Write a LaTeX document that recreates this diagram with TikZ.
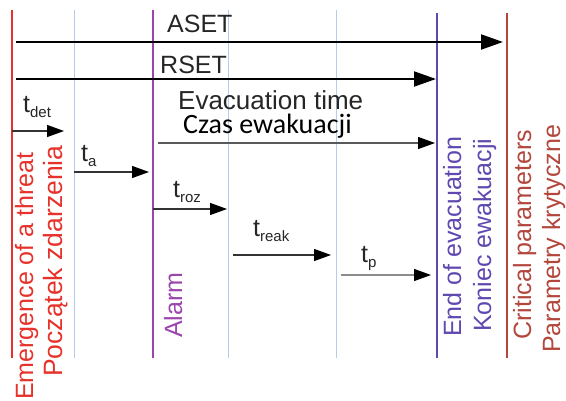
\documentclass[tikz,border=0pt]{standalone}
\usepackage{fontspec}
\setmainfont{Liberation Sans}
\newfontfamily\calib{Carlito}
\usetikzlibrary{arrows.meta}
\definecolor{cred}{HTML}{E6322A}
\definecolor{cblue}{HTML}{B7CBEA}
\definecolor{cpurple}{HTML}{9B46AE}
\definecolor{cviolet}{HTML}{6048B0}
\definecolor{cbrown}{HTML}{B3473D}
\newcommand\mysub[1]{\raisebox{-4.5pt}{\fontsize{15}{15}\selectfont #1}}
\tikzset{
  lbl/.style={inner sep=0pt, anchor=base west, font=\fontsize{25}{25}\selectfont, text=black!85},
  vlbl/.style={inner sep=0pt, anchor=base west, rotate=90, font=\fontsize{25}{25}\selectfont},
  vline/.style={line width=1.3pt},
  bigarrow/.style={line width=2pt, -{Triangle[length=22pt,width=15pt]}},
  smallarrow/.style={line width=1.3pt, draw=black!80, -{Triangle[length=17pt,width=12pt,color=black]}},
}
\begin{document}
\begin{tikzpicture}[x=1pt,y=-1pt]
\useasboundingbox[fill=white] (0,0) rectangle (566,401);
% vertical lines
\coordinate (r1) at (12,10);   \coordinate (r2) at (12,358);
\coordinate (b1) at (74,10);   \coordinate (b2) at (74,358);
\coordinate (p1) at (153,10);  \coordinate (p2) at (153,358);
\coordinate (c1) at (228,10);  \coordinate (c2) at (228,358);
\coordinate (d1) at (336,10);  \coordinate (d2) at (336,358);
\coordinate (e1) at (437,13);  \coordinate (e2) at (437,358);
\coordinate (k1) at (507,13);  \coordinate (k2) at (507,358);
\draw[vline, cred] (r1) -- (r2);
\draw[line width=1pt, cblue] (b1) -- (b2);
\draw[vline, cpurple] (p1) -- (p2);
\draw[line width=1pt, cblue] (c1) -- (c2);
\draw[line width=1pt, cblue] (d1) -- (d2);
\draw[vline, cviolet] (e1) -- (e2);
\draw[vline, cbrown] (k1) -- (k2);
% arrows
\coordinate (aset0) at (16,42);  \coordinate (aset1) at (503,42);
\coordinate (rset0) at (16,79);  \coordinate (rset1) at (436,79);
\coordinate (det0) at (12,131);  \coordinate (det1) at (64,131);
\coordinate (ta0) at (74,172);   \coordinate (ta1) at (149,172);
\coordinate (ev0) at (158,143);  \coordinate (ev1) at (435,143);
\coordinate (roz0) at (153,209); \coordinate (roz1) at (227,209);
\coordinate (reak0) at (233,255);\coordinate (reak1) at (331,255);
\coordinate (tp0) at (341,275);  \coordinate (tp1) at (431,275);
\draw[bigarrow] (aset0) -- (aset1);
\draw[bigarrow] (rset0) -- (rset1);
\draw[smallarrow] (det0) -- (det1);
\draw[smallarrow] (ta0) -- (ta1);
\draw[smallarrow, draw=black!65] (ev0) -- (ev1);
\draw[smallarrow] (roz0) -- (roz1);
\draw[smallarrow] (reak0) -- (reak1);
\draw[smallarrow, draw=black!45] (tp0) -- (tp1);
% horizontal labels
\node[lbl] (aset) at (167,33) {ASET};
\node[lbl] (rset) at (160,74) {RSET};
\node[lbl] (tdet) at (23,113) {t\mysub{det}};
\node[lbl] (ta) at (81,162) {t\mysub{a}};
\node[lbl] (troz) at (173,198) {t\mysub{roz}};
\node[lbl] (treak) at (253,237) {t\mysub{reak}};
\node[lbl] (tp) at (361,263) {t\mysub{p}};
\node[lbl, font=\fontsize{26}{26}\selectfont] (evac) at (178,110) {Evacuation time};
\node[lbl, font=\calib\fontsize{28}{28}\selectfont, text=black] (czas) at (183,134) {Czas ewakuacji};
% vertical labels
\node[vlbl, text=cred] (emerg) at (33,400) {Emergence of a threat};
\node[vlbl, text=cred, font=\fontsize{26.5}{26.5}\selectfont] (pocz) at (62,377) {Początek zdarzenia};
\node[vlbl, text=cpurple] (alarm) at (182,338) {Alarm};
\node[vlbl, text=cviolet] (endev) at (461,337) {End of evacuation};
\node[vlbl, text=cviolet] (koniec) at (491,332) {Koniec ewakuacji};
\node[vlbl, text=cbrown] (crit) at (531,340) {Critical parameters};
\node[vlbl, text=cbrown] (param) at (560,353) {Parametry krytyczne};
\end{tikzpicture}
\end{document}
